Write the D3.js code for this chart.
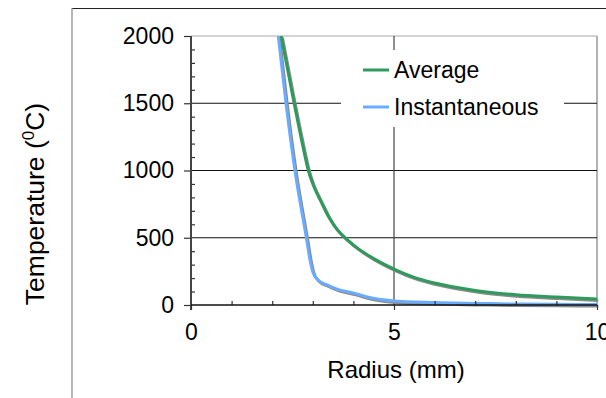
<!DOCTYPE html>
<html><head><meta charset="utf-8">
<script src="https://cdn.jsdelivr.net/npm/d3@7/dist/d3.min.js"></script>
<style>
body{margin:0;background:#fff}
svg{display:block}
text{font-family:"Liberation Sans",Arial,sans-serif;fill:#000}
</style>
</head><body>
<svg id="c" width="606" height="398"></svg>
<script>
// ---- data ----
const seriesNames = ["Average", "Instantaneous"];
const avgRadius  = [2.22, 2.54, 2.77, 2.89, 3.0, 3.2, 3.4, 3.6, 3.83, 4.16, 4.5, 5.0, 5.5, 6.0, 7.0, 8.0, 9.0, 10.0];
const avgTemp    = [2000, 1500, 1160, 1000, 900, 770, 650, 560, 490, 410, 345, 267, 205, 163, 108, 76, 59, 44];
const instRadius = [2.15, 2.34, 2.56, 2.85, 2.93, 3.01, 3.12, 3.34, 3.63, 4.0, 4.45, 4.94, 6.0, 7.0, 8.0, 9.0, 10.0];
const instTemp   = [2000, 1500, 1000, 484, 336, 237, 188, 151, 114, 89, 52, 32, 18, 12, 7, 5, 4];
const xTickValues = [0, 5, 10];
const xMinorValues = [1, 2, 3, 4, 6, 7, 8, 9];
const yTickValues = [0, 500, 1000, 1500, 2000];
const yMinorValues = d3.range(100, 2000, 100).filter(v => v % 500 !== 0);
const xTitle = "Radius (mm)";

const colors = ["#2e9a5c", "#69acff"];
const svg = d3.select("#c");
const x = d3.scaleLinear().domain([0, 10]).range([191, 597]);
const y = d3.scaleLinear().domain([0, 2000]).range([305, 36]);

// outer frame
svg.append("line").attr("x1", 72).attr("x2", 606).attr("y1", 8.5).attr("y2", 8.5).attr("stroke", "#222").attr("stroke-width", 1);
svg.append("line").attr("x1", 72).attr("x2", 72).attr("y1", 8).attr("y2", 398).attr("stroke", "#888").attr("stroke-width", 1.2);

// plot area border (top / right)
svg.append("line").attr("x1", x(0)).attr("x2", x(10)).attr("y1", y(2000)).attr("y2", y(2000)).attr("stroke", "#aaa").attr("stroke-width", 1.2);
svg.append("line").attr("x1", x(10)).attr("x2", x(10)).attr("y1", y(2000)).attr("y2", y(0)).attr("stroke", "#999").attr("stroke-width", 1.5);

// gridlines
svg.append("g").selectAll("line").data([500, 1000, 1500]).join("line")
  .attr("x1", x(0)).attr("x2", x(10)).attr("y1", d => y(d)).attr("y2", d => y(d))
  .attr("stroke", "#111").attr("stroke-width", 1);
svg.append("line").attr("x1", x(5)).attr("x2", x(5)).attr("y1", y(2000)).attr("y2", y(0))
  .attr("stroke", "#444").attr("stroke-width", 1.2);

// legend background (white box over gridlines)
const leg = svg.append("g");
leg.append("rect").attr("x", 341).attr("y", 50).attr("width", 223).attr("height", 77).attr("fill", "#fff");

// curves
svg.append("clipPath").attr("id", "pc").append("rect")
  .attr("x", x(0)).attr("y", y(2000)).attr("width", x(10) - x(0) + 2).attr("height", y(0) - y(2000) + 3);
const line = d3.line().x(d => x(d[0])).y(d => y(d[1])).curve(d3.curveMonotoneX);
const series = [d3.zip(avgRadius, avgTemp), d3.zip(instRadius, instTemp)];
const cg = svg.append("g").attr("clip-path", "url(#pc)");
series.forEach((s) => {
  cg.append("path").attr("d", line(s)).attr("fill", "none").attr("stroke", "#8a8a8a")
    .attr("stroke-width", 3).attr("transform", "translate(1.3,1.5)");
});
series.forEach((s, i) => {
  cg.append("path").attr("d", line(s)).attr("fill", "none").attr("stroke", colors[i]).attr("stroke-width", 3);
});

// y axis
const yAxis = svg.append("g").attr("transform", `translate(${x(0)},0)`)
  .call(d3.axisLeft(y).tickValues(yTickValues).tickSize(7).tickPadding(10).tickFormat(d3.format("d")));
yAxis.select(".domain").remove();
yAxis.selectAll("line").attr("stroke", "#333").attr("stroke-width", 1.2);
yAxis.selectAll("text").attr("font-size", 23).attr("font-family", "Liberation Sans, Arial, sans-serif");
const yMinor = svg.append("g").attr("transform", `translate(${x(0)},0)`)
  .call(d3.axisRight(y).tickValues(yMinorValues).tickSize(4).tickFormat(""));
yMinor.select(".domain").remove();
yMinor.selectAll("line").attr("stroke", "#333").attr("stroke-width", 1.2);
svg.append("line").attr("x1", x(0)).attr("x2", x(0)).attr("y1", y(2000)).attr("y2", y(0) + 5)
  .attr("stroke", "#444").attr("stroke-width", 2);

// x axis
const xAxis = svg.append("g").attr("transform", `translate(0,${y(0)})`)
  .call(d3.axisBottom(x).tickValues(xTickValues).tickSize(5).tickPadding(14).tickFormat(d3.format("d")));
xAxis.select(".domain").remove();
xAxis.selectAll("line").attr("stroke", "#333").attr("stroke-width", 1.2);
xAxis.selectAll("text").attr("font-size", 23).attr("font-family", "Liberation Sans, Arial, sans-serif");
const xMinor = svg.append("g").attr("transform", `translate(0,${y(0)})`)
  .call(d3.axisTop(x).tickValues(xMinorValues).tickSize(4).tickFormat(""));
xMinor.select(".domain").remove();
xMinor.selectAll("line").attr("stroke", "#333").attr("stroke-width", 1.2);
svg.append("line").attr("x1", x(0)).attr("x2", x(10)).attr("y1", y(0)).attr("y2", y(0))
  .attr("stroke", "#111").attr("stroke-width", 1.5);

// axis titles
svg.append("text").attr("x", 396).attr("y", 378).attr("text-anchor", "middle").attr("font-size", 24).text(xTitle);
const yt = svg.append("text").attr("transform", "translate(44,204) rotate(-90)").attr("text-anchor", "middle").attr("font-size", 26.5);
yt.append("tspan").text("Temperature (");
yt.append("tspan").attr("font-size", 17).attr("dy", -10).text("0");
yt.append("tspan").attr("dy", 10).text("C)");

// legend entries
const legY = [70, 107];
seriesNames.forEach((n, i) => {
  leg.append("line").attr("x1", 363).attr("x2", 389).attr("y1", legY[i]).attr("y2", legY[i])
    .attr("stroke", colors[i]).attr("stroke-width", 3);
  leg.append("text").attr("x", 394).attr("y", legY[i]).attr("dy", "0.35em").attr("font-size", 23).text(n);
});
</script>
</body></html>
